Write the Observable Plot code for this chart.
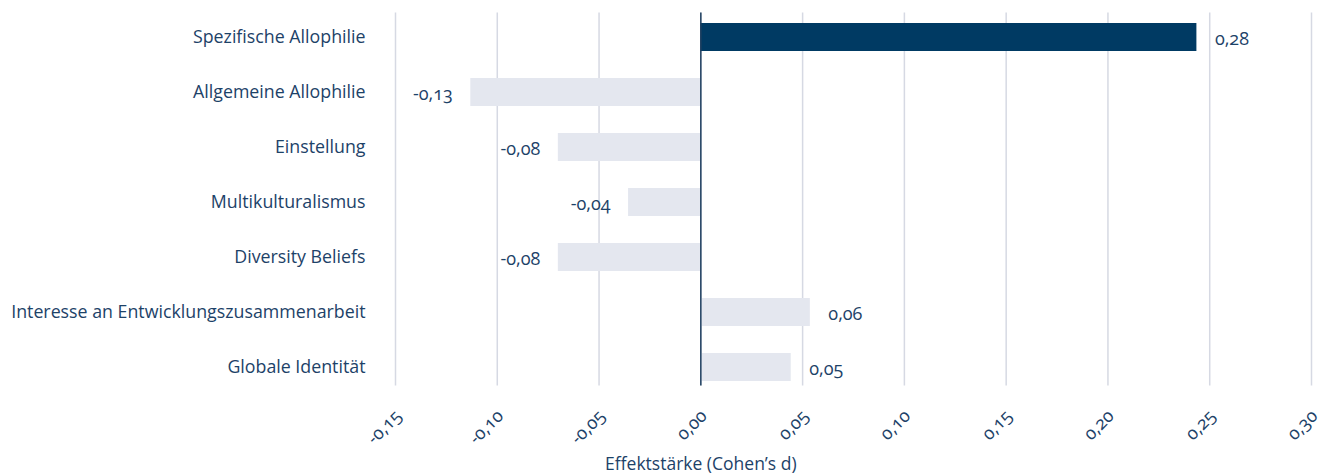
<!DOCTYPE html>
<html><head><meta charset="utf-8">
<script src="https://cdn.jsdelivr.net/npm/d3@7"></script>
<script src="https://cdn.jsdelivr.net/npm/@observablehq/plot@0.6"></script>
<style>
html,body{margin:0;padding:0;background:#fff;}
svg{font-family:"Open Sans",sans-serif;font-variant-numeric:oldstyle-nums;font-feature-settings:"onum" 1;}
</style></head>
<body><div id="chart"></div>
<script>
const categories = ["Spezifische Allophilie","Allgemeine Allophilie","Einstellung","Multikulturalismus","Diversity Beliefs","Interesse an Entwicklungszusammenarbeit","Globale Identität"];
const barValues = [0.2437, -0.113, -0.070, -0.0355, -0.070, 0.0538, 0.0444];
const valueLabels = ["0,28","-0,13","-0,08","-0,04","-0,08","0,06","0,05"];
const highlighted = [true,false,false,false,false,false,false];
const xTicks = [-0.15,-0.10,-0.05,0.00,0.05,0.10,0.15,0.20,0.25,0.30];
const axisTitle = "Effektstärke (Cohen’s d)";

const rows = categories.map((c,i)=>({cat:c, v:barValues[i], label:valueLabels[i], hi:highlighted[i]}));
const fmt = d => d.toFixed(2).replace(".", ",");
const navy = "#1d4268";

const chart = Plot.plot({
  width: 1322, height: 474,
  marginLeft: 395, marginRight: 11, marginTop: 8.5, marginBottom: 79.5,
  style: {fontSize: "18px", color: navy, fontFamily: "'Open Sans', sans-serif"},
  x: {domain: [-0.15, 0.30], axis: null},
  y: {domain: categories, paddingInner: 0.5, paddingOuter: 0.25, axis: null},
  marks: [
    Plot.ruleX(xTicks, {x: d=>d, stroke: "#d6d9e3", strokeWidth: 1.5, insetTop: 4, insetBottom: 9}),
    Plot.barX(rows, {x: "v", y: "cat", fill: d => d.hi ? "#003a63" : "#e4e7ef"}),
    Plot.ruleX([0], {stroke: "#1e3f5f", strokeWidth: 1.5, insetTop: 4, insetBottom: 9}),
    Plot.text(rows, {x: "v", y: "cat", text: "label", dx: 18, dy: 2, textAnchor: "start", fill: navy, fontSize: 18, filter: d => d.v >= 0}),
    Plot.text(rows, {x: "v", y: "cat", text: "label", dx: -18, dy: 2, textAnchor: "end", fill: navy, fontSize: 18, filter: d => d.v < 0}),
    Plot.axisY({tickSize: 0, tickPadding: 30, fontSize: 17.8, fill: navy, label: null}),
    Plot.text(xTicks, {x: d=>d, text: fmt, frameAnchor: "bottom", dx: 3, dy: 18, rotate: -45, textAnchor: "end", lineAnchor: "middle", fill: navy, fontSize: 18}),
    Plot.text([axisTitle], {x: () => 0, text: d => d, frameAnchor: "bottom", dy: 75, textAnchor: "middle", fill: navy, fontSize: 17.5})
  ]
});
document.getElementById("chart").appendChild(chart);
</script></body></html>
